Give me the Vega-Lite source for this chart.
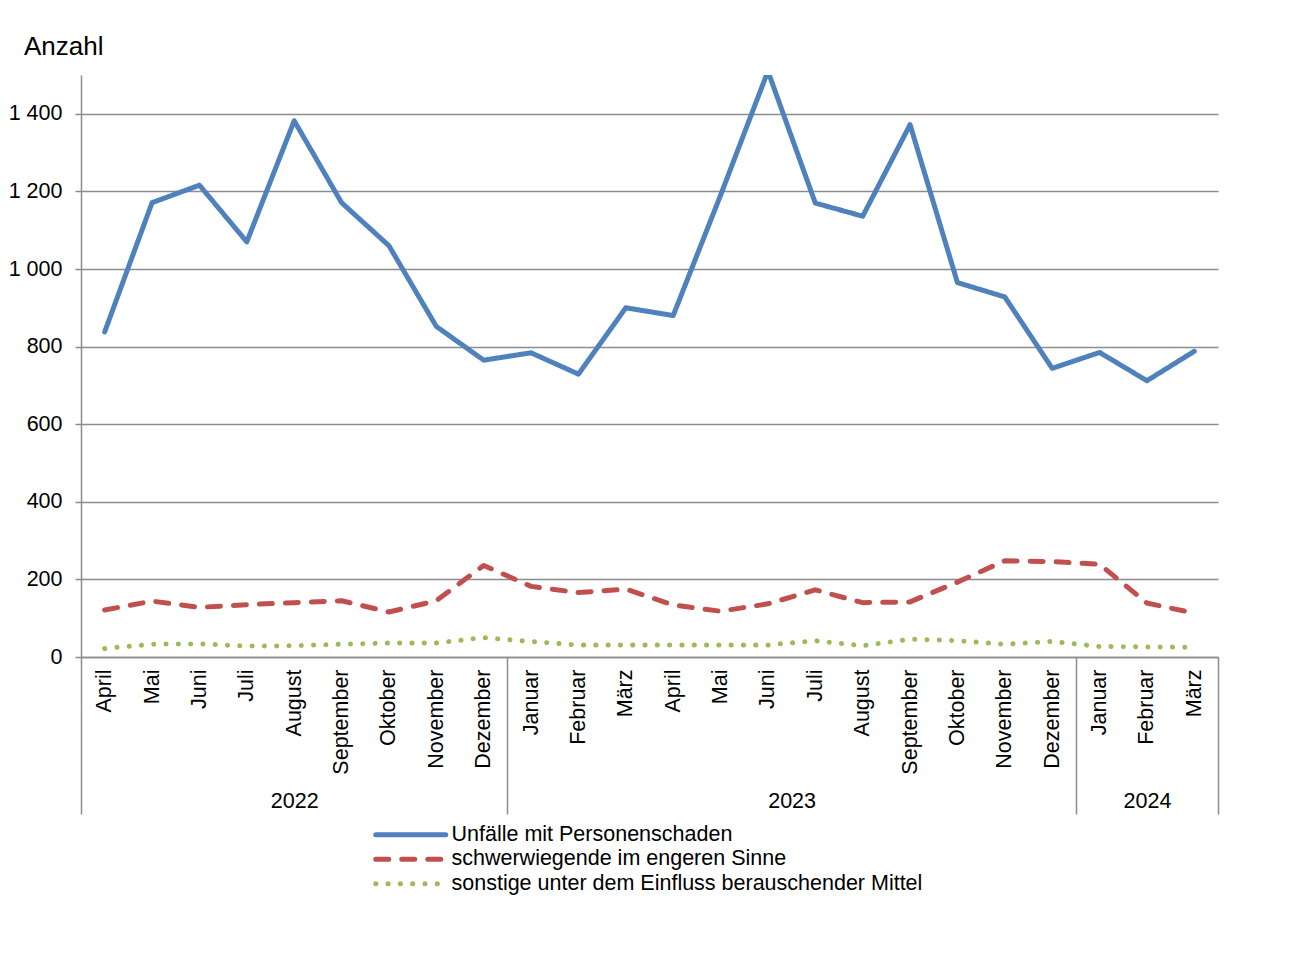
{
  "$schema": "https://vega.github.io/schema/vega-lite/v6.json",
  "width": 1137,
  "height": 582,
  "autosize": {"type": "none"},
  "padding": {"left": 81, "top": 75, "right": 94, "bottom": 296},
  "background": "white",
  "config": {
    "font": "Liberation Sans",
    "view": {"stroke": null},
    "axis": {"labelColor": "#000000", "labelFont": "Liberation Sans", "labelFontSize": 21.5},
    "legend": {
      "labelFont": "Liberation Sans",
      "labelFontSize": 21.5,
      "labelColor": "#000000",
      "labelLimit": 800,
      "symbolType": "M-7,0H7",
      "symbolSize": 100,
      "symbolStrokeWidth": 5,
      "labelOffset": 30,
      "rowPadding": 1.5,
      "padding": 0
    }
  },
  "title": {
    "text": "Anzahl",
    "anchor": "start",
    "frame": "group",
    "dx": -57,
    "offset": -6,
    "baseline": "alphabetic",
    "fontSize": 26,
    "fontWeight": "normal",
    "font": "Liberation Sans",
    "color": "#000000"
  },
  "datasets": {
    "monate": [
      {"monat": "2022-04", "reihe": "Unfälle mit Personenschaden", "anzahl": 838},
      {"monat": "2022-05", "reihe": "Unfälle mit Personenschaden", "anzahl": 1171},
      {"monat": "2022-06", "reihe": "Unfälle mit Personenschaden", "anzahl": 1216},
      {"monat": "2022-07", "reihe": "Unfälle mit Personenschaden", "anzahl": 1070},
      {"monat": "2022-08", "reihe": "Unfälle mit Personenschaden", "anzahl": 1382},
      {"monat": "2022-09", "reihe": "Unfälle mit Personenschaden", "anzahl": 1171},
      {"monat": "2022-10", "reihe": "Unfälle mit Personenschaden", "anzahl": 1060},
      {"monat": "2022-11", "reihe": "Unfälle mit Personenschaden", "anzahl": 852},
      {"monat": "2022-12", "reihe": "Unfälle mit Personenschaden", "anzahl": 765},
      {"monat": "2023-01", "reihe": "Unfälle mit Personenschaden", "anzahl": 784},
      {"monat": "2023-02", "reihe": "Unfälle mit Personenschaden", "anzahl": 729},
      {"monat": "2023-03", "reihe": "Unfälle mit Personenschaden", "anzahl": 900},
      {"monat": "2023-04", "reihe": "Unfälle mit Personenschaden", "anzahl": 880},
      {"monat": "2023-05", "reihe": "Unfälle mit Personenschaden", "anzahl": 1190},
      {"monat": "2023-06", "reihe": "Unfälle mit Personenschaden", "anzahl": 1510},
      {"monat": "2023-07", "reihe": "Unfälle mit Personenschaden", "anzahl": 1170},
      {"monat": "2023-08", "reihe": "Unfälle mit Personenschaden", "anzahl": 1136},
      {"monat": "2023-09", "reihe": "Unfälle mit Personenschaden", "anzahl": 1372},
      {"monat": "2023-10", "reihe": "Unfälle mit Personenschaden", "anzahl": 965},
      {"monat": "2023-11", "reihe": "Unfälle mit Personenschaden", "anzahl": 928},
      {"monat": "2023-12", "reihe": "Unfälle mit Personenschaden", "anzahl": 744},
      {"monat": "2024-01", "reihe": "Unfälle mit Personenschaden", "anzahl": 785},
      {"monat": "2024-02", "reihe": "Unfälle mit Personenschaden", "anzahl": 712},
      {"monat": "2024-03", "reihe": "Unfälle mit Personenschaden", "anzahl": 788},
      {"monat": "2022-04", "reihe": "schwerwiegende im engeren Sinne", "anzahl": 121},
      {"monat": "2022-05", "reihe": "schwerwiegende im engeren Sinne", "anzahl": 144},
      {"monat": "2022-06", "reihe": "schwerwiegende im engeren Sinne", "anzahl": 128},
      {"monat": "2022-07", "reihe": "schwerwiegende im engeren Sinne", "anzahl": 135},
      {"monat": "2022-08", "reihe": "schwerwiegende im engeren Sinne", "anzahl": 140},
      {"monat": "2022-09", "reihe": "schwerwiegende im engeren Sinne", "anzahl": 145},
      {"monat": "2022-10", "reihe": "schwerwiegende im engeren Sinne", "anzahl": 116},
      {"monat": "2022-11", "reihe": "schwerwiegende im engeren Sinne", "anzahl": 145},
      {"monat": "2022-12", "reihe": "schwerwiegende im engeren Sinne", "anzahl": 236},
      {"monat": "2023-01", "reihe": "schwerwiegende im engeren Sinne", "anzahl": 182},
      {"monat": "2023-02", "reihe": "schwerwiegende im engeren Sinne", "anzahl": 166},
      {"monat": "2023-03", "reihe": "schwerwiegende im engeren Sinne", "anzahl": 175},
      {"monat": "2023-04", "reihe": "schwerwiegende im engeren Sinne", "anzahl": 134},
      {"monat": "2023-05", "reihe": "schwerwiegende im engeren Sinne", "anzahl": 118},
      {"monat": "2023-06", "reihe": "schwerwiegende im engeren Sinne", "anzahl": 137},
      {"monat": "2023-07", "reihe": "schwerwiegende im engeren Sinne", "anzahl": 173},
      {"monat": "2023-08", "reihe": "schwerwiegende im engeren Sinne", "anzahl": 140},
      {"monat": "2023-09", "reihe": "schwerwiegende im engeren Sinne", "anzahl": 142},
      {"monat": "2023-10", "reihe": "schwerwiegende im engeren Sinne", "anzahl": 193},
      {"monat": "2023-11", "reihe": "schwerwiegende im engeren Sinne", "anzahl": 248},
      {"monat": "2023-12", "reihe": "schwerwiegende im engeren Sinne", "anzahl": 246},
      {"monat": "2024-01", "reihe": "schwerwiegende im engeren Sinne", "anzahl": 239},
      {"monat": "2024-02", "reihe": "schwerwiegende im engeren Sinne", "anzahl": 139},
      {"monat": "2024-03", "reihe": "schwerwiegende im engeren Sinne", "anzahl": 113},
      {"monat": "2022-04", "reihe": "sonstige unter dem Einfluss berauschender Mittel", "anzahl": 22},
      {"monat": "2022-05", "reihe": "sonstige unter dem Einfluss berauschender Mittel", "anzahl": 33},
      {"monat": "2022-06", "reihe": "sonstige unter dem Einfluss berauschender Mittel", "anzahl": 34},
      {"monat": "2022-07", "reihe": "sonstige unter dem Einfluss berauschender Mittel", "anzahl": 28},
      {"monat": "2022-08", "reihe": "sonstige unter dem Einfluss berauschender Mittel", "anzahl": 29},
      {"monat": "2022-09", "reihe": "sonstige unter dem Einfluss berauschender Mittel", "anzahl": 33},
      {"monat": "2022-10", "reihe": "sonstige unter dem Einfluss berauschender Mittel", "anzahl": 36},
      {"monat": "2022-11", "reihe": "sonstige unter dem Einfluss berauschender Mittel", "anzahl": 36},
      {"monat": "2022-12", "reihe": "sonstige unter dem Einfluss berauschender Mittel", "anzahl": 50},
      {"monat": "2023-01", "reihe": "sonstige unter dem Einfluss berauschender Mittel", "anzahl": 40},
      {"monat": "2023-02", "reihe": "sonstige unter dem Einfluss berauschender Mittel", "anzahl": 31},
      {"monat": "2023-03", "reihe": "sonstige unter dem Einfluss berauschender Mittel", "anzahl": 31},
      {"monat": "2023-04", "reihe": "sonstige unter dem Einfluss berauschender Mittel", "anzahl": 31},
      {"monat": "2023-05", "reihe": "sonstige unter dem Einfluss berauschender Mittel", "anzahl": 31},
      {"monat": "2023-06", "reihe": "sonstige unter dem Einfluss berauschender Mittel", "anzahl": 31},
      {"monat": "2023-07", "reihe": "sonstige unter dem Einfluss berauschender Mittel", "anzahl": 42},
      {"monat": "2023-08", "reihe": "sonstige unter dem Einfluss berauschender Mittel", "anzahl": 29},
      {"monat": "2023-09", "reihe": "sonstige unter dem Einfluss berauschender Mittel", "anzahl": 46},
      {"monat": "2023-10", "reihe": "sonstige unter dem Einfluss berauschender Mittel", "anzahl": 42},
      {"monat": "2023-11", "reihe": "sonstige unter dem Einfluss berauschender Mittel", "anzahl": 33},
      {"monat": "2023-12", "reihe": "sonstige unter dem Einfluss berauschender Mittel", "anzahl": 40},
      {"monat": "2024-01", "reihe": "sonstige unter dem Einfluss berauschender Mittel", "anzahl": 27},
      {"monat": "2024-02", "reihe": "sonstige unter dem Einfluss berauschender Mittel", "anzahl": 26},
      {"monat": "2024-03", "reihe": "sonstige unter dem Einfluss berauschender Mittel", "anzahl": 25}
    ],
    "grenzen": [{"grenze": 0}, {"grenze": 9}, {"grenze": 21}, {"grenze": 24}],
    "jahre": [{"mitte": 4.5, "jahr": "2022"}, {"mitte": 15, "jahr": "2023"}, {"mitte": 22.5, "jahr": "2024"}]
  },
  "layer": [
    {
      "data": {"name": "monate"},
      "mark": {"type": "line", "strokeWidth": 5, "strokeCap": "round", "strokeJoin": "round", "clip": true},
      "encoding": {
        "x": {
          "field": "monat",
          "type": "ordinal",
          "scale": {"type": "point", "padding": 0.5},
          "axis": {
            "orient": "bottom",
            "title": null,
            "labelAngle": -90,
            "ticks": false,
            "labelPadding": 12,
            "labelOverlap": false,
            "domainColor": "#8c8c8c",
            "domainWidth": 1.5,
            "grid": false,
            "labelExpr": "['Januar','Februar','März','April','Mai','Juni','Juli','August','September','Oktober','November','Dezember'][toNumber(slice(datum.value,5))-1]"
          }
        },
        "y": {
          "field": "anzahl",
          "type": "quantitative",
          "scale": {"domain": [0, 1500], "nice": false},
          "axis": {
            "title": null,
            "values": [0, 200, 400, 600, 800, 1000, 1200, 1400],
            "grid": true,
            "gridColor": "#8c8c8c",
            "gridWidth": 1.5,
            "domainColor": "#8c8c8c",
            "domainWidth": 1.5,
            "tickColor": "#8c8c8c",
            "tickWidth": 1.5,
            "tickSize": 6,
            "labelPadding": 13,
            "labelExpr": "replace(format(datum.value, ','), ',', ' ')"
          }
        },
        "color": {
          "field": "reihe",
          "type": "nominal",
          "scale": {
            "domain": ["Unfälle mit Personenschaden", "schwerwiegende im engeren Sinne", "sonstige unter dem Einfluss berauschender Mittel"],
            "range": ["#4F81BD", "#C0504D", "#9BBB59"]
          },
          "legend": {
            "title": null,
            "orient": "none",
            "legendX": 319,
            "legendY": 749,
            "encode": {"symbols": {"update": {"strokeCap": {"value": "round"}, "fill": {"value": "transparent"}}}}
          }
        },
        "strokeDash": {
          "field": "reihe",
          "type": "nominal",
          "scale": {
            "domain": ["Unfälle mit Personenschaden", "schwerwiegende im engeren Sinne", "sonstige unter dem Einfluss berauschender Mittel"],
            "range": [[1, 0], [13, 13], [0.1, 12.2]]
          },
          "legend": {
            "title": null,
            "orient": "none",
            "legendX": 319,
            "legendY": 749,
            "encode": {"symbols": {"update": {"strokeCap": {"value": "round"}, "fill": {"value": "transparent"}}}}
          }
        }
      }
    },
    {
      "data": {"name": "grenzen"},
      "mark": {"type": "point", "opacity": 0},
      "encoding": {
        "x": {
          "field": "grenze",
          "type": "quantitative",
          "scale": {"domain": [0, 24], "nice": false, "zero": false},
          "axis": {
            "orient": "bottom",
            "title": null,
            "values": [0, 9, 21, 24],
            "labels": false,
            "domain": false,
            "grid": false,
            "ticks": true,
            "tickSize": 157,
            "tickColor": "#8c8c8c",
            "tickWidth": 1.5
          }
        }
      }
    },
    {
      "data": {"name": "jahre"},
      "mark": {"type": "point", "opacity": 0},
      "encoding": {
        "x": {
          "field": "mitte",
          "type": "quantitative",
          "scale": {"domain": [0, 24], "nice": false, "zero": false},
          "axis": {
            "orient": "bottom",
            "title": null,
            "values": [4.5, 15, 22.5],
            "labelExpr": "datum.value < 9 ? '2022' : (datum.value < 21 ? '2023' : '2024')",
            "ticks": false,
            "domain": false,
            "grid": false,
            "labelFlush": false,
            "labelBound": false,
            "labelOverlap": false,
            "labelBaseline": "top",
            "labelPadding": 133
          }
        }
      }
    }
  ],
  "resolve": {"scale": {"x": "independent"}, "axis": {"x": "independent"}}
}
